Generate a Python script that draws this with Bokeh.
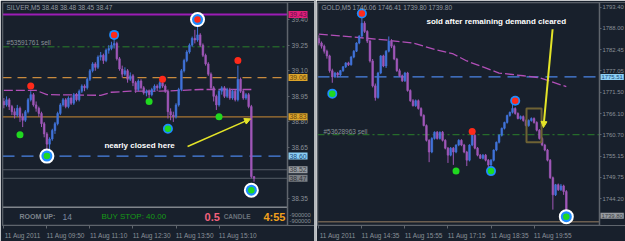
from bokeh.plotting import figure
from bokeh.models import (Range1d, FixedTicker, NumeralTickFormatter, Label, Arrow, LinearAxis,
                          NormalHead, Spacer, ColumnDataSource, BoxAnnotation)
from bokeh.layouts import row
from bokeh.embed import file_html
from bokeh.resources import INLINE

# ---------------- SILVER, M5 (bar index -> open/high/low/close) ----------------
silver_open = [38.92, 38.90, 38.93, 38.89, 38.86, 38.84, 38.88, 38.83, 38.81, 38.86,
               38.93, 38.96, 38.90, 38.88, 38.85, 38.79, 38.73, 38.67, 38.70, 38.75,
               38.79, 38.85, 38.90, 38.93, 38.89, 38.94, 38.91, 38.96, 38.93, 38.98,
               39.01, 39.00, 39.05, 39.10, 39.14, 39.12, 39.18, 39.19, 39.16, 39.22,
               39.23, 39.25, 39.26, 39.17, 39.11, 39.08, 39.10, 39.05, 39.07, 39.03,
               38.99, 39.04, 39.00, 38.97, 38.98, 38.96, 38.99, 39.01, 39.00, 39.03,
               39.01, 38.98, 38.86, 38.84, 38.83, 38.90, 38.99, 39.10, 39.16, 39.21,
               39.25, 39.29, 39.28, 39.31, 39.25, 39.19, 39.14, 39.08, 39.00, 38.95,
               38.90, 38.98, 39.00, 38.95, 38.99, 38.94, 38.98, 38.93, 39.05, 38.98,
               38.94, 38.96, 38.89, 38.48]
silver_high = [38.94, 38.95, 38.94, 38.90, 38.88, 38.90, 38.89, 38.85, 38.87, 38.94,
               38.98, 38.97, 38.92, 38.89, 38.86, 38.80, 38.74, 38.71, 38.76, 38.80,
               38.86, 38.91, 38.94, 38.94, 38.95, 38.95, 38.97, 38.97, 38.99, 39.02,
               39.02, 39.06, 39.11, 39.15, 39.15, 39.19, 39.21, 39.20, 39.23, 39.25,
               39.27, 39.29, 39.27, 39.18, 39.13, 39.12, 39.11, 39.09, 39.08, 39.04,
               39.05, 39.05, 39.01, 38.99, 38.99, 39.00, 39.02, 39.02, 39.04, 39.04,
               39.02, 38.99, 38.88, 38.86, 38.91, 39.00, 39.11, 39.17, 39.22, 39.26,
               39.30, 39.34, 39.37, 39.32, 39.26, 39.20, 39.15, 39.09, 39.01, 38.96,
               38.99, 39.01, 39.01, 39.00, 39.00, 38.99, 38.99, 39.13, 39.06, 38.99,
               38.97, 38.97, 38.90, 38.48]
silver_low = [38.88, 38.89, 38.87, 38.84, 38.82, 38.83, 38.80, 38.77, 38.80, 38.85,
              38.92, 38.89, 38.86, 38.83, 38.77, 38.71, 38.64, 38.64, 38.69, 38.73,
              38.78, 38.84, 38.89, 38.88, 38.88, 38.90, 38.90, 38.92, 38.92, 38.97,
              38.98, 38.99, 39.04, 39.09, 39.10, 39.11, 39.16, 39.14, 39.15, 39.20,
              39.22, 39.23, 39.16, 39.10, 39.06, 39.07, 39.03, 39.04, 39.01, 38.97,
              38.98, 38.99, 38.96, 38.95, 38.94, 38.95, 38.98, 38.98, 38.99, 39.00,
              38.97, 38.82, 38.81, 38.80, 38.82, 38.89, 38.98, 39.09, 39.15, 39.20,
              39.24, 39.26, 39.27, 39.24, 39.18, 39.13, 39.07, 38.99, 38.92, 38.87,
              38.89, 38.96, 38.94, 38.94, 38.93, 38.93, 38.92, 38.92, 38.97, 38.93,
              38.93, 38.88, 38.47, 38.45]
silver_close = [38.90, 38.93, 38.89, 38.86, 38.84, 38.88, 38.83, 38.81, 38.86, 38.93,
                38.96, 38.90, 38.88, 38.85, 38.79, 38.73, 38.67, 38.70, 38.75, 38.79,
                38.85, 38.90, 38.93, 38.89, 38.94, 38.91, 38.96, 38.93, 38.98, 39.01,
                39.00, 39.05, 39.10, 39.14, 39.12, 39.18, 39.19, 39.16, 39.22, 39.23,
                39.25, 39.26, 39.17, 39.11, 39.08, 39.10, 39.05, 39.07, 39.03, 38.99,
                39.04, 39.00, 38.97, 38.98, 38.96, 38.99, 39.01, 39.00, 39.03, 39.01,
                38.98, 38.86, 38.84, 38.83, 38.90, 38.99, 39.10, 39.16, 39.21, 39.25,
                39.29, 39.28, 39.31, 39.25, 39.19, 39.14, 39.08, 39.00, 38.95, 38.90,
                38.98, 39.00, 38.95, 38.99, 38.94, 38.98, 38.93, 39.05, 38.98, 38.94,
                38.96, 38.89, 38.48, 38.47]
silver_ma_x = [0, 12, 16, 36, 40, 47, 58, 66, 73, 92]
silver_ma = [38.985, 38.985, 38.96, 38.956, 38.974, 38.98, 38.98, 38.985, 38.99, 38.99]
silver_sig_x = [41, 72, 10, 59, 87, 54, 80, 6, 16, 61, 92]
silver_sig_y = [39.31, 39.40, 39.01, 39.05, 39.16, 38.92, 38.83, 38.725, 38.60, 38.76, 38.40]
silver_sig_kind = ["sell", "sell", "sell", "sell", "sell", "buy", "buy", "buy", "buy", "buy", "buy"]
silver_sig_ring = [1, 2, 0, 0, 0, 0, 0, 0, 2, 1, 2]
silver_ticks = [39.40, 39.25, 39.10, 38.95, 38.80, 38.65, 38.35]
silver_time_marks = [0, 16, 32, 48, 64, 80]
silver_time_labels = ["11 Aug 2011", "11 Aug 09:50", "11 Aug 11:10",
                      "11 Aug 12:30", "11 Aug 13:50", "11 Aug 15:10"]
silver_top_line = 39.43
silver_order_line = 39.24
silver_level_a = 39.06
silver_level_b = 38.83
silver_level_c = 38.60
silver_level_d = [38.52, 38.47]
silver_order_label = "#53591761 sell"
silver_title = "SILVER,M5  38.48  38.48  38.45  38.47"

# ---------------- GOLD, M5 ----------------
gold_open = [1785.4, 1784.2, 1783.4, 1782.1, 1780.9, 1777.1, 1775.5, 1776.5, 1776.0, 1777.1,
             1778.1, 1779.1, 1778.6, 1780.6, 1782.1, 1784.2, 1786.0, 1789.3, 1787.2, 1784.7,
             1779.6, 1773.2, 1770.2, 1776.5, 1780.9, 1778.3, 1782.1, 1784.7, 1783.4, 1780.1,
             1777.1, 1775.8, 1774.5, 1776.5, 1772.0, 1769.4, 1768.1, 1769.4, 1767.4, 1765.6,
             1763.0, 1759.2, 1756.2, 1759.7, 1761.3, 1759.7, 1761.3, 1759.2, 1757.2, 1755.4,
             1757.2, 1756.2, 1758.0, 1759.2, 1758.0, 1756.2, 1754.1, 1758.0, 1760.5, 1757.2,
             1755.4, 1754.6, 1755.4, 1754.1, 1752.9, 1754.1, 1756.7, 1758.7, 1760.5, 1762.3,
             1763.8, 1765.6, 1766.4, 1767.4, 1766.1, 1764.8, 1765.3, 1764.3, 1763.0, 1764.3,
             1764.8, 1763.8, 1761.8, 1759.7, 1758.0, 1756.7, 1754.1, 1749.6, 1745.2, 1747.8,
             1746.5, 1747.5, 1746.06]
gold_high = [1786.2, 1784.6, 1783.8, 1782.5, 1781.2, 1777.6, 1776.8, 1776.8, 1777.3, 1778.3,
             1779.3, 1779.4, 1780.9, 1782.4, 1784.4, 1786.2, 1790.6, 1789.8, 1787.5, 1785.0,
             1780.1, 1773.8, 1776.8, 1781.1, 1781.2, 1782.4, 1785.9, 1785.2, 1783.8, 1780.4,
             1777.6, 1776.1, 1776.8, 1776.8, 1772.3, 1769.8, 1769.7, 1769.7, 1767.7, 1765.9,
             1763.3, 1759.5, 1760.0, 1761.5, 1761.6, 1761.5, 1761.6, 1759.5, 1757.5, 1757.5,
             1757.5, 1758.2, 1759.5, 1759.5, 1758.3, 1756.5, 1758.2, 1761.2, 1760.8, 1757.5,
             1755.7, 1755.7, 1755.7, 1754.4, 1754.4, 1756.9, 1758.9, 1760.8, 1762.5, 1764.0,
             1765.8, 1766.6, 1768.4, 1767.7, 1766.4, 1765.6, 1765.6, 1764.6, 1764.6, 1765.1,
             1765.1, 1764.1, 1762.1, 1760.0, 1758.3, 1757.0, 1754.4, 1749.9, 1748.0, 1748.1,
             1748.0, 1747.8, 1746.41]
gold_low = [1783.6, 1782.8, 1781.5, 1780.2, 1776.6, 1774.0, 1775.2, 1775.4, 1775.7, 1776.8,
            1777.8, 1778.3, 1778.4, 1780.3, 1781.9, 1783.9, 1785.7, 1786.8, 1784.2, 1779.2,
            1772.8, 1769.4, 1769.9, 1776.2, 1778.0, 1777.8, 1781.8, 1782.9, 1779.8, 1776.8,
            1775.5, 1774.2, 1774.2, 1771.7, 1769.1, 1767.9, 1767.8, 1767.1, 1765.3, 1762.8,
            1758.9, 1753.6, 1755.9, 1759.4, 1759.4, 1759.4, 1758.9, 1756.9, 1753.4, 1755.1,
            1752.9, 1755.9, 1757.7, 1757.7, 1755.9, 1752.6, 1753.8, 1757.7, 1756.9, 1755.1,
            1754.4, 1754.3, 1753.8, 1752.1, 1752.6, 1753.8, 1756.4, 1758.4, 1760.2, 1762.0,
            1763.5, 1765.3, 1766.1, 1765.8, 1764.6, 1764.5, 1764.0, 1762.8, 1762.7, 1764.0,
            1763.5, 1761.5, 1759.4, 1757.7, 1756.4, 1753.8, 1749.3, 1741.4, 1744.9, 1746.2,
            1746.2, 1745.2, 1739.80]
gold_close = [1784.2, 1783.4, 1782.1, 1780.9, 1777.1, 1775.5, 1776.5, 1776.0, 1777.1, 1778.1,
              1779.1, 1778.6, 1780.6, 1782.1, 1784.2, 1786.0, 1789.3, 1787.2, 1784.7, 1779.6,
              1773.2, 1770.2, 1776.5, 1780.9, 1778.3, 1782.1, 1784.7, 1783.4, 1780.1, 1777.1,
              1775.8, 1774.5, 1776.5, 1772.0, 1769.4, 1768.1, 1769.4, 1767.4, 1765.6, 1763.0,
              1759.2, 1756.2, 1759.7, 1761.3, 1759.7, 1761.3, 1759.2, 1757.2, 1755.4, 1757.2,
              1756.2, 1758.0, 1759.2, 1758.0, 1756.2, 1754.1, 1758.0, 1760.5, 1757.2, 1755.4,
              1754.6, 1755.4, 1754.1, 1752.9, 1754.1, 1756.7, 1758.7, 1760.5, 1762.3, 1763.8,
              1765.6, 1766.4, 1767.4, 1766.1, 1764.8, 1765.3, 1764.3, 1763.0, 1764.3, 1764.8,
              1763.8, 1761.8, 1759.7, 1758.0, 1756.7, 1754.1, 1749.6, 1745.2, 1747.8, 1746.5,
              1747.5, 1746.06, 1739.80]
gold_ma_x = [0, 9, 26, 35, 43, 50, 55, 67, 76, 82, 92]
gold_ma = [1786.5, 1786.0, 1784.9, 1784.2, 1782.6, 1781.4, 1779.6, 1776.5, 1775.8, 1775.3, 1773.0]
gold_sig_x = [16, 5, 73, 57, 51, 64, 92]
gold_sig_y = [1791.8, 1771.2, 1769.4, 1761.5, 1751.3, 1751.3, 1739.6]
gold_sig_kind = ["sell", "buy", "sell", "sell", "buy", "buy", "buy"]
gold_sig_ring = [1, 1, 1, 0, 0, 1, 2]
gold_ticks = [1793.40, 1788.00, 1782.45, 1777.05, 1771.50, 1766.10, 1760.70, 1755.15, 1749.75, 1744.20]
gold_time_marks = [0, 16, 32, 48, 64, 80]
gold_time_labels = ["11 Aug 2011", "11 Aug 14:35", "11 Aug 15:55",
                    "11 Aug 17:15", "11 Aug 18:35", "11 Aug 19:55"]
gold_level_a = 1775.51
gold_order_line = 1760.65
gold_bottom_line = 1738.3
gold_last = 1739.80
gold_order_label = "#53628963 sell"
gold_title = "GOLD,M5  1746.06  1746.41  1739.80  1739.80"

# ---------------- styling ----------------
BG = "#18202c"
FRAME = "#5f656d"
BULL = "#4173da"
BEAR = "#a057b8"
TXT = "#899098"
FONT = "Liberation Sans"
YEL = "#e4e428"
RED = "#ff2a1a"
GRN = "#20d820"
RING = "#1e8cff"


def make_fig(width, xr, chart_end, yr, borders, ticks, tick_size, tick_out, standoff):
    p = figure(width=width, height=241, x_range=Range1d(*xr), y_range=Range1d(*yr),
               y_axis_location=None, output_backend="svg", toolbar_location=None,
               background_fill_color=BG, border_fill_color=BG, outline_line_color=None,
               min_border_left=borders[0], min_border_right=borders[1],
               min_border_top=borders[2], min_border_bottom=borders[3])
    p.grid.visible = False
    # price axis drawn at the chart's right border, as in the terminal
    yax = LinearAxis(fixed_location=chart_end, ticker=FixedTicker(ticks=ticks),
                     formatter=NumeralTickFormatter(format="0.00"))
    p.add_layout(yax, "right")
    for ax in (p.xaxis[0], yax):
        ax.axis_line_color = FRAME
        ax.major_label_text_color = TXT
        ax.major_label_text_font = FONT
        ax.major_label_text_font_size = "6.5px"
        ax.major_tick_line_color = FRAME
        ax.minor_tick_line_color = FRAME
    yax.major_label_text_font_size = tick_size
    yax.major_tick_out = tick_out
    yax.major_tick_in = 0
    yax.minor_tick_out = 0
    yax.major_label_standoff = standoff
    p.xaxis.major_tick_out = 0
    p.xaxis.major_tick_in = 0
    p.xaxis.minor_tick_out = 3
    p.xaxis.minor_tick_in = 0
    p.xaxis.major_label_standoff = 3
    # chart border
    p.add_layout(BoxAnnotation(left=xr[0], right=chart_end, bottom=yr[0], top=yr[1],
                               fill_alpha=0, line_color=FRAME, line_width=1.5, line_alpha=1))
    return p


def time_axis(p, marks, labels):
    centers = [m + 7 for m in marks]
    p.xaxis.ticker = FixedTicker(ticks=centers, minor_ticks=marks)
    p.xaxis.major_label_overrides = {c: t for c, t in zip(centers, labels)}


def candles(p, o, h, l, c):
    x = list(range(len(o)))
    src = ColumnDataSource(dict(
        x=x, h=h, l=l,
        top=[max(a, b) for a, b in zip(o, c)],
        bot=[min(a, b) for a, b in zip(o, c)],
        col=[BULL if b >= a else BEAR for a, b in zip(o, c)]))
    p.segment(x0="x", y0="h", x1="x", y1="l", line_color="col", line_width=1, source=src)
    p.vbar(x="x", width=0.62, top="top", bottom="bot", fill_color="col",
           line_color="col", line_width=0.6, source=src)


def signals(p, xs, ys, kinds, rings):
    for want, size, color in ((2, 15, "white"), (2, 11, RING), (1, 10, RING)):
        sx = [x for x, r in zip(xs, rings) if r == want]
        sy = [y for y, r in zip(ys, rings) if r == want]
        if sx:
            p.scatter(sx, sy, size=size, fill_color=color, line_color=None)
    cols = [RED if k == "sell" else GRN for k in kinds]
    sizes = [6.5 if r else 7 for r in rings]
    p.scatter(x=xs, y=ys, size=sizes, fill_color=cols, line_color=None)


def hline(p, x0, x1, y, color, width=1.0, dash="solid"):
    p.segment(x0=[x0], x1=[x1], y0=[y], y1=[y], line_color=color, line_width=width,
              line_dash=dash, level="underlay")


def text(p, x, y, s, size, color, bold=False, align="left"):
    p.add_layout(Label(x=x, y=y, text=s, text_font=FONT, text_font_size=size, text_color=color,
                       text_font_style="bold" if bold else "normal",
                       text_align=align, text_baseline="middle"))


def price_box(p, xend, y, s, bg, fg, size):
    p.add_layout(Label(x=xend, x_offset=1, y=y, text=s, text_font=FONT, text_font_size=size,
                       text_color=fg, text_align="left", text_baseline="middle",
                       background_fill_color=bg, padding=1))


# ================= left: SILVER =================
s_x0, s_end, s_xmax = -0.5, 105.45, 115.48
p1 = make_fig(314, (s_x0, s_xmax), s_end, (38.1934, 39.4997), (2, 0, 2, 13),
              silver_ticks, "6.5px", 2, 2)
time_axis(p1, silver_time_marks, silver_time_labels)

hline(p1, s_x0, s_end, silver_top_line, "#9c1cb6", 2)
hline(p1, s_x0, s_end, silver_order_line, "#2b802b", 1, "7 3 2 3")
hline(p1, s_x0, s_end, silver_level_a, "#c88a3e", 1.2, "9 6")
hline(p1, s_x0, s_end, silver_level_b, "#a97632", 1.2)
hline(p1, s_x0, s_end, silver_level_c, "#4a84e6", 1.2, "12 7")
for lv in silver_level_d:
    hline(p1, s_x0, s_end, lv, "#555c66", 1)
hline(p1, s_x0, s_end, 38.30, "#80858c", 1.5)

p1.line(silver_ma_x, silver_ma, line_color="#b24fb8", line_width=1.3, line_dash="9 3")
candles(p1, silver_open, silver_high, silver_low, silver_close)
signals(p1, silver_sig_x, silver_sig_y, silver_sig_kind, silver_sig_ring)

text(p1, 1.0, 39.471, silver_title, "6.5px", "#949aa2")
text(p1, 1.0, 39.263, silver_order_label, "6.5px", TXT)
text(p1, 37.4, 38.66, "nearly closed here", "8px", "white", bold=True)
p1.add_layout(Arrow(end=NormalHead(size=6, fill_color=YEL, line_color=YEL),
                    x_start=68.3, y_start=38.656, x_end=91.7, y_end=38.818,
                    line_color=YEL, line_width=1.5))

# indicator panel texts
info_y = 38.245
text(p1, 5.8, info_y, "ROOM UP:", "7px", "#7c838b", bold=True)
text(p1, 21.8, info_y, "14", "8.5px", "#7b89a0")
text(p1, 36.3, info_y, "BUY STOP: 40.00", "8px", "#169a16")
text(p1, 74.6, info_y, "0.5", "11px", "#f2607c", bold=True)
text(p1, 81.7, info_y, "CANDLE", "6.5px", "#6a727a", bold=True)
text(p1, 96.5, info_y, "4:55", "11px", "#f2a01c", bold=True)

BOX_L = "6.8px"
price_box(p1, s_end, silver_top_line, "39.43", "#e2207a", "#6a0e4c", BOX_L)
price_box(p1, s_end, silver_level_a, "39.06", "#dca42a", "#6a4810", BOX_L)
price_box(p1, s_end, silver_level_b, "38.83", "#dca42a", "#6a4810", BOX_L)
price_box(p1, s_end, silver_level_c, "38.60", "#8ccff5", "#1a4a7a", BOX_L)
price_box(p1, s_end, silver_level_d[0], "38.52", "#979ba1", "#3a3e44", BOX_L)
price_box(p1, s_end, silver_level_d[1], "38.47", "#7c8086", "#2e3238", BOX_L)
for yy in (38.257, 38.222):
    p1.add_layout(Label(x=s_end, x_offset=2, y=yy, text="-900000", text_font=FONT,
                        text_font_size="5.8px", text_color=TXT, text_baseline="middle"))

# ================= right: GOLD =================
g_x0, g_end, g_xmax = -0.5, 104.33, 114.0
p2 = make_fig(309, (g_x0, g_xmax), g_end, (1737.325, 1794.621), (1, 0, 1, 15),
              gold_ticks, "5.9px", 2, 1)
time_axis(p2, gold_time_marks, gold_time_labels)

hline(p2, g_x0, g_end, gold_level_a, "#4a84e6", 1.2, "12 7")
hline(p2, g_x0, g_end, gold_order_line, "#2b802b", 1, "7 3 2 3")
hline(p2, g_x0, g_end, gold_bottom_line, "#6c5e50", 1.5)

p2.line(gold_ma_x, gold_ma, line_color="#b24fb8", line_width=1.3, line_dash="9 3")
candles(p2, gold_open, gold_high, gold_low, gold_close)
signals(p2, gold_sig_x, gold_sig_y, gold_sig_kind, gold_sig_ring)

p2.add_layout(BoxAnnotation(left=77.2, right=82.8, bottom=1758.7, top=1767.4,
                            fill_alpha=0, line_color="#6e6234", line_width=2, line_alpha=1))
text(p2, 1.0, 1793.35, gold_title, "6.5px", "#949aa2")
text(p2, 1.7, 1761.52, gold_order_label, "6.5px", TXT)
text(p2, 40.0, 1789.78, "sold after remaining demand cleared", "8px", "white", bold=True)
p2.add_layout(Arrow(end=NormalHead(size=6, fill_color=YEL, line_color=YEL),
                    x_start=86.9, y_start=1787.75, x_end=83.5, y_end=1762.5,
                    line_color=YEL, line_width=2))

price_box(p2, g_end, gold_level_a, "1775.51", "#8ccff5", "#1a4a7a", "5.9px")
price_box(p2, g_end, gold_last, "1739.80", "#979ba1", "#3a3e44", "5.9px")

sep = Spacer(width=2, height=241, styles={"background-color": "#b4b8bc"})
layout = row(p1, sep, p2)

open("out.html", "w").write(file_html(layout, INLINE))
